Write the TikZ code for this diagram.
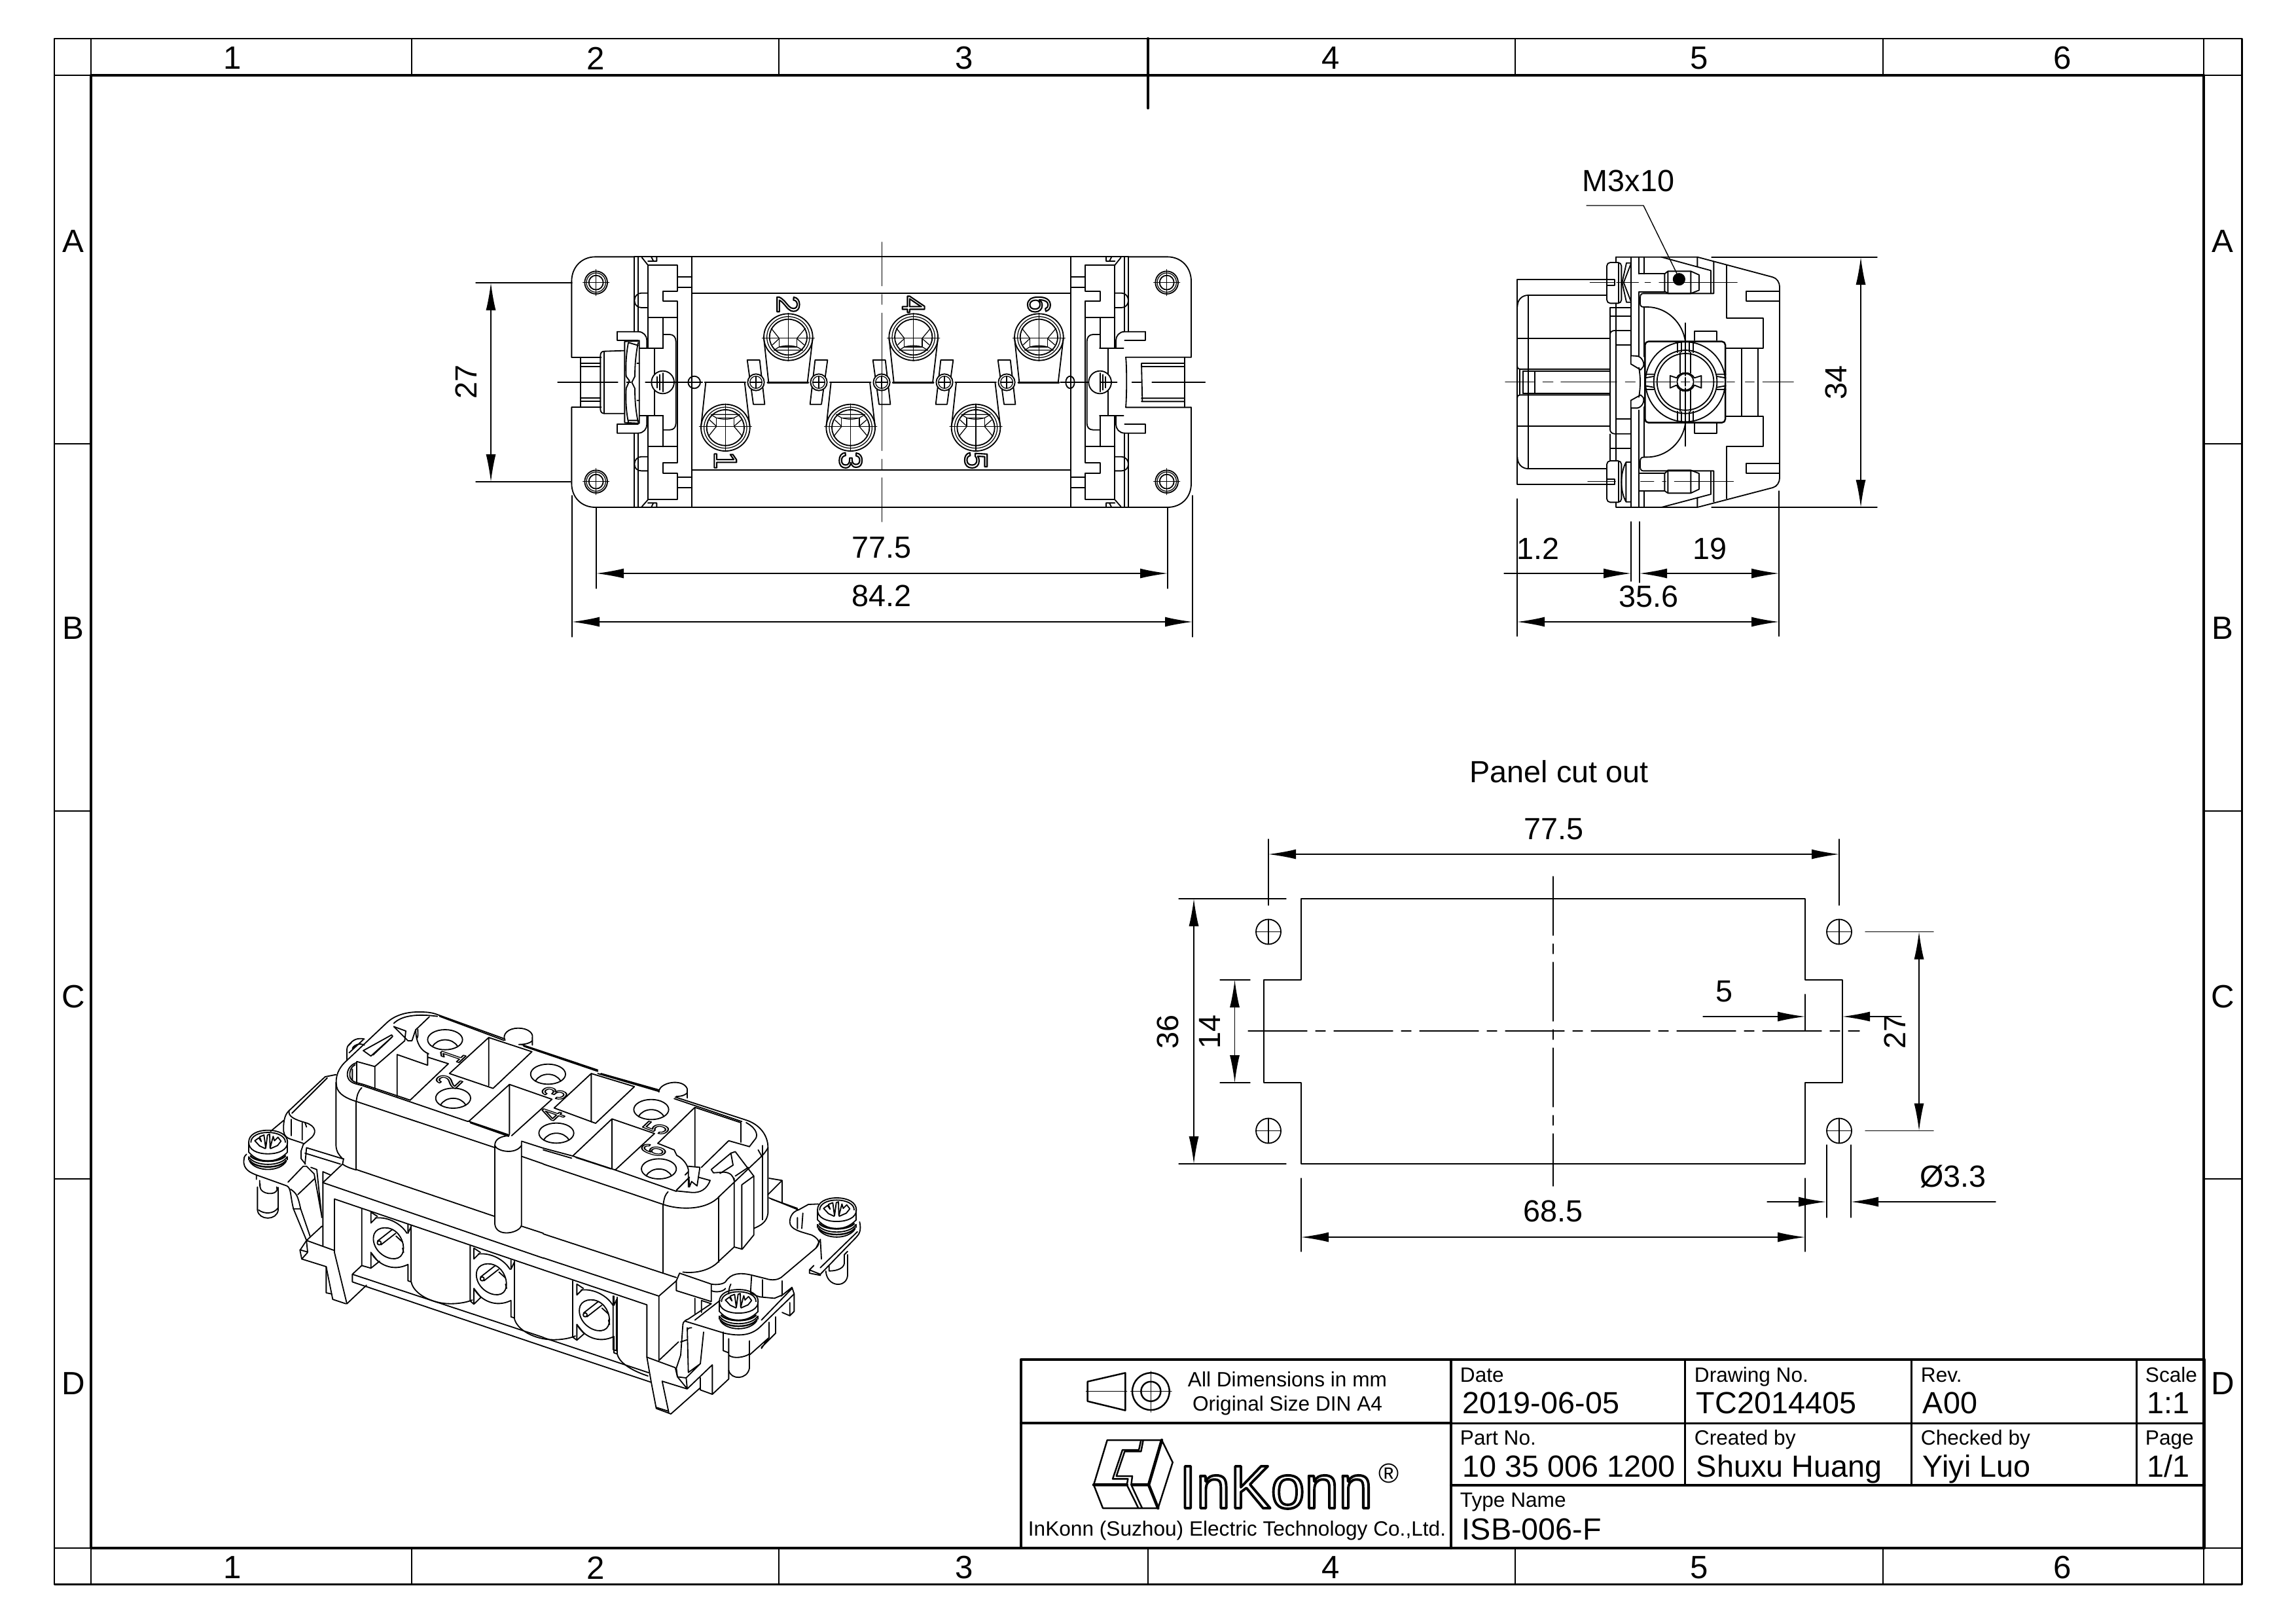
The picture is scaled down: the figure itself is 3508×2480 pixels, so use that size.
\documentclass[tikz,border=0pt]{standalone}
\usepackage{fontspec}
\setmainfont{Liberation Sans}
\usetikzlibrary{arrows.meta}
\newcommand\outl[2][0.6]{\special{pdf:code 1 Tr #1 w}#2\special{pdf:code 0 Tr}}
\newcommand\fsA{\fontsize{13.3}{15}\selectfont}
\newcommand\fsB{\fontsize{9}{11}\selectfont}
\newcommand\fsC{\fontsize{14}{16}\selectfont}
\tikzset{
 ln/.style={line width=0.52pt,line join=round,line cap=round},
 thk/.style={line width=0.7pt,line join=round},
 thn/.style={line width=0.35pt},
 fr/.style={line width=0.85pt},
 frb/.style={line width=1.25pt},
 dl/.style={line width=0.4pt},
 dimarr/.style={line width=0.4pt,{Latex[length=4.2mm,width=1.5mm]}-{Latex[length=4.2mm,width=1.5mm]}},
 onearr/.style={line width=0.4pt,-{Latex[length=4.2mm,width=1.5mm]}},
 cen/.style={line width=0.4pt,dash pattern=on 9mm off 1.3mm on 1.5mm off 1.3mm},
 dt/.style={font=\fsA,inner sep=0pt},
 dtr/.style={font=\fsA,inner sep=0pt,rotate=90},
 gl/.style={font=\fsC,inner sep=0pt},
 lab/.style={font=\fsB,anchor=base west,inner sep=0pt},
 val/.style={font=\fsA,anchor=base west,inner sep=0pt},
 zs/.style={x=0.033333mm,y=-0.033333mm},
 zm/.style={x=-0.033333mm,y=-0.033333mm},
}
% terminal of the front view (origin: centre of the ring)
\newcommand\termi[3]{%
\begin{scope}[shift={(#1,#2)},yscale=#3]
 \draw[thk] (-95,-203)--(92,-203);
 \draw[ln] (-90,-203)--(-112,0) (88,-203)--(112,0);
 \draw[ln] (0,5) ellipse [x radius=112,y radius=107];
 \draw[thn] (0,5) ellipse [x radius=98,y radius=94];
 \draw[ln] (0,5) ellipse [x radius=86,y radius=82];
 \draw[thn] (0,-104)--(0,114) (-120,0)--(120,0);
 \draw[thn] (-42,-40) rectangle (40,0);
 \draw[thn] (-66,-55)--(66,-55) (-42,-40)--(-66,-55) (40,-40)--(66,-55);
 \draw[thn] (-72,-30)--(-42,-2) (72,-30)--(40,-2) (-42,0)--(-78,45) (40,0)--(78,45);
 \draw[thn] (-42,-40) .. controls (-10,-32) and (10,-32) .. (40,-40);
\end{scope}}
% tab with a small ring on the centre line
\newcommand\tabl[2]{% x, direction
\begin{scope}[shift={(#1,597)},xscale=#2]
 \draw[ln] (-40,-102)--(17,-102)--(40,101)--(-12,101)--cycle;
 \fill[white] (0,0) circle [radius=38];
 \draw[ln] (0,0) circle [radius=38];
 \draw[thn] (0,0) circle [radius=28];
 \draw[thn] (-28,0)--(28,0) (0,-28)--(0,28);
\end{scope}}
% parts that the left and right ends of the front view share
\newcommand\frontend{%
 \draw[ln] (328,22)--(150,22) .. controls (85,22) and (40,70) .. (40,135)--(40,482);
 \draw[ln] (40,712)--(40,1060) .. controls (40,1125) and (85,1170) .. (150,1170)--(328,1170);
 \foreach \y in {140,1052}{
  \draw[ln] (152,\y) circle [radius=52];
  \draw[thn] (152,\y) circle [radius=44];
  \draw[ln] (152,\y) circle [radius=33];
  \draw[thn] (92,\y)--(212,\y) (152,\y-60)--(152,\y+60);
 }
 \draw[ln] (328,22)--(592,22) (328,1170)--(592,1170);
 \draw[ln] (328,22)--(328,365) (345,22)--(345,365) (328,830)--(328,1170) (345,830)--(345,1170);
 \draw[ln] (362,25)--(390,60) (405,22)--(415,42)--(390,42) (430,22)--(430,42)--(415,42);
 \draw[ln] (362,1167)--(390,1135) (405,1170)--(415,1150)--(390,1150) (430,1170)--(430,1150)--(415,1150);
 \draw[ln] (390,60)--(525,60)--(525,180)--(458,180)--(458,225)--(525,225)--(525,965)--(458,965)--(458,1015)--(525,1015)--(525,1135)--(390,1135)--(390,750);
 \draw[ln] (390,60)--(390,440);
 \draw[ln] (390,300)--(525,300) (458,300)--(458,440) (458,750)--(458,892) (390,892)--(525,892);
 \draw[ln] (525,113)--(592,113) (525,163)--(592,163) (525,1032)--(592,1032) (525,1080)--(592,1080);
 \draw[ln] (592,22)--(592,1170);
 \draw[ln] (388,188)--(360,188) .. controls (340,188) and (328,205) .. (328,222) .. controls (328,240) and (340,255) .. (360,255)--(388,255);
 \draw[ln] (388,938)--(360,938) .. controls (340,938) and (328,955) .. (328,972) .. controls (328,990) and (340,1003) .. (360,1003)--(388,1003);
 \draw[ln] (250,365)--(345,365) .. controls (370,365) and (385,385) .. (385,405)--(385,440);
 \draw[ln] (250,365)--(250,405)--(345,405);
 \draw[ln] (250,830)--(345,830) .. controls (370,830) and (385,810) .. (385,790)--(385,750);
 \draw[ln] (250,830)--(250,790)--(345,790);
 \draw[ln] (350,442)--(460,442) (350,750)--(460,750) (420,442)--(420,750);
 \draw[ln] (460,378)--(490,378) .. controls (508,378) and (518,392) .. (518,410)--(518,785) .. controls (518,803) and (508,815) .. (490,815)--(460,815);
 \draw[ln] (458,378)--(458,440);
 \draw[ln,fill=white] (458,597) circle [radius=52];
 \draw[ln] (458,555)--(458,640) (445,562)--(445,632) (432,572)--(432,622) (406,597)--(458,597);
}
% slotted screw of the perspective view
\newcommand\screwp[2]{%
\begin{scope}[shift={(#1,#2)}]
 \draw[ln] (-88,-5) .. controls (-88,-40) and (-50,-60) .. (0,-60) .. controls (50,-60) and (90,-40) .. (90,-5) .. controls (90,30) and (50,48) .. (0,48) .. controls (-50,48) and (-88,30) .. (-88,-5);
 \draw[ln] (-78,-5) .. controls (-78,-32) and (-45,-50) .. (0,-50) .. controls (45,-50) and (80,-32) .. (80,-5);
 \draw[ln] (-88,-5)--(-88,40) (90,-5)--(90,40);
 \draw[ln] (-88,40) .. controls (-60,72) and (-30,80) .. (0,80) .. controls (30,80) and (60,72) .. (90,40);
 \draw[ln] (-60,-12)--(-42,-25)--(-30,-8)--(-38,-30)--(-18,-38)--(-10,22)--(-2,-38)--(8,-42)--(10,22)--(24,-32)--(30,-12)--(46,-28)--(60,-10)--(44,10);
 \draw[ln] (-60,-12)--(-38,12)--(-12,24) (44,10)--(12,24);
 \draw[thk] (-80,58) .. controls (-50,90) and (50,90) .. (80,58);
 \draw[ln] (-88,62) .. controls (-60,108) and (60,108) .. (88,62);
 \draw[ln] (-88,62)--(-88,75) (88,62)--(88,75);
 \draw[thk] (-84,78) .. controls (-55,118) and (55,118) .. (84,78);
 \draw[ln] (-84,82) .. controls (-55,132) and (55,132) .. (84,82);
\end{scope}}
% contact opening of the perspective view
\newcommand\openp[2]{%
\begin{scope}[shift={(#1,#2)}]
 \draw[ln] (635,1065) .. controls (650,1030) and (710,1025) .. (745,1065) .. controls (775,1100) and (780,1160) .. (745,1175) .. controls (710,1190) and (650,1160) .. (635,1110) .. controls (630,1095) and (630,1080) .. (635,1065);
 \draw[ln] (650,1098)--(718,1045) (666,1115)--(734,1062);
 \draw[ln] (658,1106) circle [radius=9];
 \draw[ln] (735,1075)--(765,1102) (765,1130)--(770,1150);
 \draw[ln] (620,965)--(620,1015)--(645,990) (620,965)--(650,985);
 \draw[ln] (640,992) .. controls (700,985) and (760,1020) .. (785,1062);
 \draw[ln] (790,1020)--(790,1062)--(805,1030);
 \draw[ln] (620,1150)--(620,1222) (620,1150)--(652,1190);
 \draw[ln] (620,1150) .. controls (650,1205) and (720,1240) .. (790,1205)--(790,1280)--(805,1285);
 \draw[ln] (805,1025)--(805,1285);
\end{scope}}
\begin{document}
\begin{tikzpicture}[x=0.1mm,y=-0.1mm,ln]
\useasboundingbox (0,0) rectangle (3508,2480);
% ---------------- sheet frame
\draw[fr] (83,59) rectangle (3425,2420);
\draw[frb] (139,115) rectangle (3367,2365);
\draw[thn] (139,59)--(139,115) (3367,59)--(3367,115) (139,2365)--(139,2420) (3367,2365)--(3367,2420)
 (83,115)--(139,115) (3367,115)--(3425,115) (83,2365)--(139,2365) (3367,2365)--(3425,2365);
\foreach \x in {629,1190,2315,2877}{\draw[thn] (\x,59)--(\x,115) (\x,2365)--(\x,2420);}
\draw[thn] (1754,2365)--(1754,2420);
\draw[frb] (1754,59)--(1754,165);
\foreach \y in {678,1239,1801}{\draw[thn] (83,\y)--(139,\y) (3367,\y)--(3425,\y);}
\foreach \x/\t in {355/1,910/2,1473/3,2033/4,2596/5,3151/6}{
 \node[gl] (top\t) at (\x,89) {\t};
 \node[gl] (bot\t) at (\x,2395) {\t};}
\foreach \y/\t in {369/A,960/B,1523/C,2114/D}{
 \node[gl] (lft\t) at (112,\y) {\t};
 \node[gl] (rgt\t) at (3396,\y) {\t};}
% ---------------- title block
\draw[frb] (1560,2077) rectangle (3368,2365);
\draw[frb] (1560,2174)--(2217,2174);
\draw[frb] (2217,2077)--(2217,2365);
\draw[fr] (2217,2174)--(3368,2174);
\draw[frb] (2217,2269)--(3368,2269);
\foreach \x in {2574,2920,3264}{\draw[fr] (\x,2077)--(\x,2269);}
\node[lab] (tDate) at (2230,2111) {Date};
\node[lab] (tDraw) at (2588,2111) {Drawing No.};
\node[lab] (tRev) at (2934,2111) {Rev.};
\node[lab] (tScale) at (3277,2111) {Scale};
\node[val] (vDate) at (2234,2159) {2019-06-05};
\node[val] (vDraw) at (2591,2159) {TC2014405};
\node[val] (vRev) at (2937,2159) {A00};
\node[val] (vScale) at (3280,2159) {1:1};
\node[lab] (tPart) at (2230,2207) {Part No.};
\node[lab] (tCre) at (2588,2207) {Created by};
\node[lab] (tChk) at (2934,2207) {Checked by};
\node[lab] (tPage) at (3277,2207) {Page};
\node[val] (vPart) at (2234,2256) {10 35 006 1200};
\node[val] (vCre) at (2591,2256) {Shuxu Huang};
\node[val] (vChk) at (2937,2256) {Yiyi Luo};
\node[val] (vPage) at (3280,2256) {1/1};
\node[lab] (tType) at (2230,2302) {Type Name};
\node[val] (vType) at (2233,2352) {ISB-006-F};
\node[lab,anchor=base] (tDim) at (1967,2118) {All Dimensions in mm};
\node[lab,anchor=base] (tDin) at (1967,2155) {Original Size DIN A4};
\node[lab,anchor=base] (tCo) at (1890,2346) {InKonn (Suzhou) Electric Technology Co.,Ltd.};
\node[font=\fontsize{26.5}{28}\selectfont,anchor=base west,inner sep=0pt] (logo) at (1801,2304) {\outl[1.1]{InKonn}};
\node[font=\fontsize{12}{14}\selectfont,inner sep=0pt] (reg) at (2122,2251) {®};
\begin{scope}[shift={(1640,2080)},zs]
 \draw[thk] (65,92)--(238,52)--(238,224)--(65,182)--cycle;
 \draw[thn] (58,137)--(245,137) (262,137)--(450,137) (355,45)--(355,232);
 \draw[thk] (355,137) circle [radius=85];
 \draw[thk] (355,137) circle [radius=45];
 \draw[thk] (155,360)--(405,360)--(455,462)--(388,672)--(135,672)--(93,565)--cycle;
 \draw[line width=1.3pt] (93,565)--(245,565) (270,565)--(345,565) (405,360)--(345,565)--(388,672);
 \draw[thk] (310,360)--(300,405)--(225,405)--(180,538)--(250,538)--(245,565)--(298,672);
 \draw[thk] (320,360)--(310,412)--(235,412)--(197,525)--(270,525)--(265,565)--(315,672);
\end{scope}
% ---------------- front view
\begin{scope}[shift={(860,385)},zs]
 \frontend
 \draw[ln] (592,22)--(2328,22) (592,1170)--(2328,1170);
 \draw[ln] (592,190)--(2328,190) (592,1000)--(2328,1000);
 % left-only latch
 \draw[ln] (40,482)--(175,482) (40,712)--(175,712) (80,482)--(80,712);
 \draw[ln] (80,510)--(172,510) (80,525)--(172,525) (80,670)--(172,670) (80,685)--(172,685);
 \draw[ln] (280,452)--(190,455) .. controls (178,455) and (172,462) .. (172,475)--(172,720) .. controls (172,732) and (178,740) .. (190,740)--(280,740);
 \draw[ln] (190,455)--(190,740);
 \draw[ln] (283,410)--(283,780) (350,405)--(350,785) (283,410)--(350,408) (283,782)--(350,785);
 \draw[ln] (300,415) .. controls (288,480) and (288,530) .. (290,570)--(305,590)--(290,625) .. controls (288,670) and (288,720) .. (300,780);
 \draw[ln] (345,415) .. controls (332,480) and (330,530) .. (330,570)--(316,597)--(330,625) .. controls (330,670) and (332,720) .. (345,780);
 \draw[ln] (300,415)--(345,428) (300,772)--(345,772) (340,510)--(350,510) (340,680)--(350,680);
 % centre holes and lines
 \draw[ln] (602,597) ellipse [x radius=28,y radius=28];
 \draw[thn] (-24,597)--(252,597) (292,597)--(312,597) (378,597)--(640,597);
 \draw[thn] (2280,597)--(2540,597) (2608,597)--(2650,597) (2700,597)--(2944,597);
 \tabl{885}{1}\tabl{1173}{-1}\tabl{1461}{1}\tabl{1749}{-1}\tabl{2034}{1}
 \termi{745}{800}{1}\termi{1319}{800}{1}\termi{1893}{800}{1}
 \termi{1033}{395}{-1}\termi{1607}{395}{-1}\termi{2182}{395}{-1}
 \draw[thn] (1462,-45)--(1462,155) (1462,195)--(1462,240) (1462,280)--(1462,910) (1462,950)--(1462,1000) (1462,1035)--(1462,1236);
 \foreach \x/\y/\t in {745/955/1,1319/955/3,1893/955/5,1033/240/2,1607/240/4,2182/240/6}
  \node[font=\fsC,rotate=-90,inner sep=0pt] (fn\t) at (\x,\y) {\outl{\t}};
\end{scope}
\begin{scope}[shift={(1833.33,385)},zm]
 \frontend
 \draw[ln] (595,597) ellipse [x radius=20,y radius=28];
 \draw[ln] (40,482)--(340,482) .. controls (335,520) and (335,660) .. (340,712)--(40,712);
 \draw[ln] (70,482)--(70,712) (70,510)--(268,510) (70,525)--(268,525) (70,670)--(268,670) (70,685)--(268,685) (268,510)--(264,685);
\end{scope}
\draw[dl] (727,432)--(874,432) (727,736)--(872,736);
\coordinate (fa1) at (750,432); \coordinate (fa2) at (750,736);
\draw[dimarr] (fa1)--(fa2);
\node[dtr] (d27a) at (712,583) {27};
\draw[dl] (911,775)--(911,899) (1784,775)--(1784,899);
\coordinate (fb1) at (911,876); \coordinate (fb2) at (1784,876);
\draw[dimarr] (fb1)--(fb2);
\node[dt] (d775a) at (1347,837) {77.5};
\draw[dl] (874,757)--(874,973) (1822,757)--(1822,973);
\coordinate (fc1) at (874,950); \coordinate (fc2) at (1822,950);
\draw[dimarr] (fc1)--(fc2);
\node[dt] (d842) at (1347,910) {84.2};
% ---------------- side view
\begin{scope}[shift={(2300,370)},zs]
 \draw[ln] (500,172)--(55,172)--(55,1110)--(500,1110);
 \draw[ln] (465,243)--(105,243) .. controls (75,243) and (55,265) .. (55,295);
 \draw[ln] (465,1038)--(105,1038) .. controls (75,1038) and (55,1015) .. (55,985);
 \draw[ln] (105,243)--(105,1038) (55,440)--(480,440) (55,843)--(480,843);
 \draw[ln] (55,570) .. controls (55,580) and (62,582) .. (75,582)--(480,582) (55,712) .. controls (55,702) and (62,700) .. (75,700)--(480,700);
 \draw[ln] (80,592)--(480,592) (80,692)--(480,692) (80,592)--(80,692) (135,592)--(135,692) (65,582)--(65,700);
 % screw heads
 \draw[ln,rounded corners=1.5pt] (465,93) rectangle (532,280);
 \draw[ln,rounded corners=1.5pt] (465,1002) rectangle (532,1192);
 \draw[ln] (520,95)--(520,278) (520,1004)--(520,1190);
 \draw[ln] (500,172)--(500,198)--(465,198) (465,1085)--(500,1085)--(500,1110)--(465,1110);
 \draw[ln] (575,95)--(555,95)--(535,185)--(555,275)--(575,275) (575,100)--(542,185)--(575,270);
 \draw[ln] (575,1008)--(553,1008) .. controls (525,1060) and (525,1140) .. (553,1190)--(575,1190) (553,1008)--(553,1190);
 % plate
 \draw[ln] (507,68)--(880,68)--(1225,160) .. controls (1245,165) and (1257,185) .. (1257,205)--(1257,1080) .. controls (1257,1100) and (1245,1120) .. (1225,1125)--(880,1215)--(507,1215)--(507,1192);
 \draw[ln] (507,68)--(507,93) (507,280)--(507,1002);
 \draw[ln] (575,68)--(575,520) (575,760)--(575,1215) (612,68)--(612,145) (612,228)--(612,520) (612,770)--(612,1215);
 \draw[ln] (635,68)--(635,145) (635,297)--(635,525) (635,755)--(635,985) (635,1140)--(635,1215);
 \draw[ln] (880,68)--(880,110) (715,68)--(942,130)--(942,235) (955,90)--(955,235)--(632,235) .. controls (622,235) and (618,242) .. (618,255)--(618,280) .. controls (618,292) and (622,297) .. (635,297);
 \draw[ln] (880,1170)--(880,1215) (715,1215)--(942,1155)--(942,1048) (955,1190)--(955,1048)--(632,1048) .. controls (622,1048) and (618,1040) .. (618,1030)--(618,1005) .. controls (618,992) and (622,985) .. (635,985);
 \draw[ln] (635,297)--(650,297) .. controls (740,297) and (815,370) .. (825,458);
 \draw[ln] (635,985)--(650,985) .. controls (740,985) and (815,915) .. (825,828);
 \draw[ln] (612,145)--(730,145) (612,228)--(730,228) (612,1058)--(730,1058) (612,1140)--(730,1140);
 \draw[ln] (730,145)--(745,133)--(850,133)--(888,150)--(888,220)--(850,235)--(745,235)--(730,225)--cycle (745,133)--(745,235) (850,133)--(850,235);
 \draw[ln] (730,1060)--(745,1045)--(850,1045)--(888,1060)--(888,1132)--(850,1150)--(745,1150)--(730,1140)--cycle (745,1045)--(745,1150) (850,1045)--(850,1150);
 % right shapes
 \draw[ln] (1015,105)--(1015,347)--(1183,347)--(1183,487)--(1010,487) (1015,1175)--(1015,937)--(1183,937)--(1183,797)--(1010,797);
 \draw[ln] (1257,225)--(1105,225)--(1105,270)--(1257,270) (1257,1013)--(1105,1013)--(1105,1060)--(1257,1060);
 \draw[ln] (1082,487)--(1082,797) (1157,487)--(1157,797);
 % middle block
 \draw[ln] (480,300)--(480,860) .. controls (480,870) and (490,878) .. (500,878)--(575,878) (480,420) .. controls (480,412) and (490,405) .. (500,405)--(575,405) (480,880)--(480,1002);
 \draw[ln] (480,338)--(575,338) (507,472)--(575,472) (480,945)--(575,945) (507,810)--(575,810) (480,300)--(575,300);
 \draw[ln] (575,520)--(605,522) .. controls (625,525) and (640,555) .. (632,570)--(620,585)--(575,558)--cycle;
 \draw[ln] (575,760)--(605,760) .. controls (625,757) and (640,730) .. (632,712)--(620,700)--(575,725)--cycle;
 \draw[ln] (612,575) .. controls (620,620) and (620,660) .. (612,710);
 % screw
 \draw[ln] (868,450)--(868,408)--(970,408)--(970,450) (868,830)--(868,875)--(970,875)--(970,830);
 \draw[thk,rounded corners=1.5pt] (640,455) rectangle (1008,827);
 \draw[ln] (825,640) circle [radius=183];
 \draw[ln] (825,640) circle [radius=145];
 \draw[ln] (825,640) circle [radius=130];
 \draw[ln] (800,505)--(800,600) (850,505)--(850,600) (800,680)--(800,775) (850,680)--(850,775);
 \draw[ln] (790,460)--(790,505) (860,460)--(860,505) (790,775)--(790,822) (860,775)--(860,822) (808,460)--(808,503) (842,460)--(842,503) (808,777)--(808,822) (842,777)--(842,822);
 \draw[ln] (640,622)--(680,615) (640,658)--(680,665) (1010,622)--(970,615) (1010,658)--(970,665) (640,605)--(680,605) (640,675)--(680,675) (1010,605)--(970,605) (1010,675)--(970,675);
 \draw[ln,fill=white] (755,612)--(785,622) .. controls (790,608) and (812,596) .. (825,600) .. controls (840,596) and (860,610) .. (866,622)--(898,612)--(898,668)--(866,655) .. controls (860,672) and (840,684) .. (825,682) .. controls (808,684) and (790,672) .. (785,655)--(755,668)--cycle;
 \draw[ln] (825,640) circle [radius=38];
 \draw[thn] (805,640)--(845,640) (825,620)--(825,660);
 % centre lines
 \draw[dl] (825,370)--(825,612) (825,668)--(825,935);
 \draw[dl] (388,185)--(500,185) (510,185)--(610,185) (640,185)--(665,185) (705,185)--(1062,185);
 \draw[dl] (378,1097)--(505,1097) (620,1097)--(680,1097) (720,1097)--(735,1097) (775,1097)--(1045,1097);
 \draw[dl] (0,640)--(130,640) (172,640)--(218,640) (255,640)--(510,640) (550,640)--(595,640) (640,640)--(780,640) (870,640)--(1000,640) (1015,640)--(1050,640) (1100,640)--(1140,640) (1180,640)--(1320,640);
 \draw[ln,fill=black] (796,170) circle [radius=26];
\end{scope}
\coordinate (lead1) at (2424,314); \coordinate (lead2) at (2511,314); \coordinate (lead3) at (2564,422);
\draw[dl] (lead1)--(lead2)--(lead3);
\node[dt] (m3) at (2488,276) {M3x10};
\draw[dl] (2615,393)--(2868,393) (2615,775)--(2868,775);
\coordinate (sa1) at (2843,393); \coordinate (sa2) at (2843,775);
\draw[dimarr] (sa1)--(sa2);
\node[dtr] (d34) at (2805,584) {34};
\draw[dl] (2318,762)--(2318,972) (2718,750)--(2718,972) (2492,797)--(2492,888) (2505,797)--(2505,890);
\coordinate (sb1) at (2298,876); \coordinate (sb2) at (2492,876); \coordinate (sb3) at (2505,876); \coordinate (sb4) at (2718,876);
\draw[onearr] (sb1)--(sb2);
\draw[dimarr] (sb3)--(sb4);
\coordinate (sc1) at (2318,950); \coordinate (sc2) at (2718,950);
\draw[dimarr] (sc1)--(sc2);
\node[dt] (d12) at (2350,838) {1.2};
\node[dt] (d19) at (2612,838) {19};
\node[dt] (d356) at (2519,911) {35.6};
% ---------------- panel cut out
\node[dt] (pco) at (2382,1179) {Panel cut out};
\draw[thk] (1988,1373)--(2758,1373)--(2758,1497)--(2815,1497)--(2815,1654)--(2758,1654)--(2758,1778)--(1988,1778)--(1988,1654)--(1931,1654)--(1931,1497)--(1988,1497)--cycle;
\draw[cen] (1907,1575)--(2841,1575);
\draw[cen] (2373,1339)--(2373,1812);
\foreach \x/\y in {1938/1423.5,2810/1423.5,1938/1727.5,2810/1727.5}{
 \draw[ln] (\x,\y) circle [radius=19];
 \draw[thn] (\x-19,\y)--(\x+19,\y) (\x,\y-19)--(\x,\y+19);}
\draw[dl] (1938,1282)--(1938,1383) (2810,1282)--(2810,1383);
\coordinate (pa1) at (1938,1305); \coordinate (pa2) at (2810,1305);
\draw[dimarr] (pa1)--(pa2);
\node[dt] (d775b) at (2374,1267) {77.5};
\draw[dl] (1801,1373)--(1965,1373) (1801,1778)--(1965,1778);
\coordinate (pb1) at (1824,1373); \coordinate (pb2) at (1824,1778);
\draw[dimarr] (pb1)--(pb2);
\node[dtr] (d36) at (1784,1576) {36};
\draw[dl] (1864,1497)--(1910,1497) (1864,1654)--(1910,1654);
\coordinate (pc1) at (1886.5,1497); \coordinate (pc2) at (1886.5,1654);
\draw[dimarr] (pc1)--(pc2);
\node[dtr] (d14) at (1848,1576) {14};
\draw[dl] (2850,1423.5)--(2954,1423.5) (2850,1727.5)--(2954,1727.5);
\coordinate (pd1) at (2932,1423.5); \coordinate (pd2) at (2932,1727.5);
\draw[dimarr] (pd1)--(pd2);
\node[dtr] (d27b) at (2895,1576) {27};
\draw[dl] (2758,1519)--(2758,1575);
\coordinate (pe1) at (2602,1553); \coordinate (pe2) at (2758,1553); \coordinate (pe3) at (2905,1553); \coordinate (pe4) at (2815,1553);
\draw[onearr] (pe1)--(pe2);
\draw[onearr] (pe3)--(pe4);
\node[dt] (d5) at (2634,1515) {5};
\draw[dl] (1988,1800)--(1988,1912) (2758,1800)--(2758,1912);
\coordinate (pf1) at (1988,1890); \coordinate (pf2) at (2758,1890);
\draw[dimarr] (pf1)--(pf2);
\node[dt] (d685) at (2373,1850) {68.5};
\draw[dl] (2791,1749)--(2791,1860) (2828,1749)--(2828,1860);
\coordinate (pg1) at (2700,1836); \coordinate (pg2) at (2790,1836); \coordinate (pg3) at (3049,1836); \coordinate (pg4) at (2828,1836);
\draw[onearr] (pg1)--(pg2);
\draw[onearr] (pg3)--(pg4);
\node[dt] (d33) at (2984,1797) {Ø3.3};
% ---------------- perspective view, left part
\begin{scope}[shift={(360,1530)},zs]
 % rim
 \draw[ln] (510,270)--(690,100) .. controls (730,60) and (790,46) .. (850,48) .. controls (880,48) and (905,52) .. (925,60)--(1230,170);
 \draw[ln] (935,68)--(1230,178) (725,100) .. controls (760,65) and (830,55) .. (925,68);
 \draw[ln] (1310,197)--(1660,314) (1320,205)--(1660,320);
 \draw[ln] (1235,178) .. controls (1220,150) and (1250,122) .. (1295,122) .. controls (1340,122) and (1365,145) .. (1360,165)--(1360,200);
 \draw[ln] (1298,197) .. controls (1330,197) and (1350,190) .. (1360,180);
 \draw[ln] (510,270) .. controls (470,305) and (455,345) .. (463,390) .. controls (470,425) and (510,445) .. (553,458)--(1190,670);
 \draw[ln] (460,370)--(460,660) .. controls (462,690) and (475,705) .. (490,720);
 \draw[ln] (553,458) .. controls (556,430) and (562,410) .. (578,395);
 \draw[ln] (553,458)--(553,770);
 \draw[ln] (555,280) .. controls (520,290) and (505,325) .. (515,350) .. controls (525,375) and (555,378) .. (580,385)--(1065,550);
 \draw[ln] (548,290) .. controls (525,300) and (520,330) .. (525,348) .. controls (535,372) and (560,372) .. (585,380)--(800,452);
 \draw[ln] (1065,548)--(1255,612) (1076,556)--(1252,618);
 % cavities
 \draw[ln] (555,275)--(638,298)--(775,180)--(780,135)--(725,115) (638,298)--(638,398) (555,275)--(555,378) (535,310)--(535,360);
 \draw[ln] (740,243)--(740,435) (740,243)--(880,292)--(880,237) (880,255)--(975,285)--(800,452);
 \draw[ln] (725,115)--(790,180)--(808,180)--(825,130)--(888,70);
 \draw[ln] (825,130) .. controls (828,195) and (850,225) .. (885,240);
 \draw[ln] (835,128) .. controls (835,150) and (838,160) .. (830,170);
 \draw[ln] (585,225)--(620,250)--(720,160)--(715,153)--cycle;
 \draw[ln] (630,245)--(715,165);
 \draw[ln] (520,200) .. controls (535,175) and (560,165) .. (590,172);
 \draw[ln] (510,270)--(510,220) .. controls (510,205) and (520,195) .. (530,190) (520,235)--(585,175) (535,215) .. controls (545,195) and (570,190) .. (590,200);
 \draw[ln] (980,330)--(1160,165)--(1358,230)--(1180,398)--cycle (1160,165)--(1160,385);
 \draw[ln] (1070,548)--(1255,380)--(1450,448)--(1265,615) (1255,380)--(1255,607);
 % contact holes
 \foreach \x/\y in {960/175,997/443,1432/333,1470/603}{
  \draw[ln] (\x,\y) ellipse [x radius=80,y radius=46];
  \draw[ln] (\x-58,\y+32) .. controls (\x-35,\y-10) and (\x+35,\y-10) .. (\x+58,\y+32);}
 % stud
 \draw[ln] (1188,660) .. controls (1188,630) and (1215,618) .. (1250,615);
 \draw[ln] (1188,660) .. controls (1195,685) and (1280,705) .. (1310,660);
 \draw[ln] (1188,660)--(1188,1020) .. controls (1195,1085) and (1305,1060) .. (1310,1025)--(1310,645);
 \draw[ln] (1310,640)--(1410,672) (1312,710)--(1410,744) (553,770)--(1188,985) (1312,1030)--(1410,1062);
 % flange
 \draw[ln] (400,830)--(1410,1176) (400,830)--(490,745) (490,745)--(495,720) (490,745) .. controls (510,760) and (530,765) .. (553,772);
 \draw[ln] (453,905)--(1410,1230) (453,905)--(453,1150)--(510,1385)--(600,1300);
 \draw[ln] (400,830)--(400,1120) (395,1030)--(325,1095);
 \draw[ln] (535,1250)--(1410,1539) (535,1250)--(535,1285)--(1410,1580) (535,1250)--(578,1210);
 \draw[ln] (578,950)--(578,1210)--(620,1222)--(660,1190);
 \draw[ln] (1075,1120)--(1075,1372)--(1092,1387)--(1125,1355);
 \draw[ln] (1545,1280)--(1545,1538)--(1564,1552)--(1600,1520);
 \openp{0}{0}\openp{472}{165}\openp{944}{330}
 \foreach \dx/\dy in {0/0,472/165}{
  \draw[ln,shift={(\dx,\dy)}] (805,1285) .. controls (815,1340) and (900,1385) .. (985,1385) .. controls (1025,1385) and (1060,1378) .. (1085,1368);}
 \draw[ln] (1749,1615) .. controls (1760,1665) and (1840,1700) .. (1890,1716);
 % bracket
 \draw[ln] (245,500)--(410,345)--(460,335) (258,512)--(420,350);
 \draw[ln] (245,500) .. controls (222,520) and (218,560) .. (220,595) .. controls (222,615) and (235,625) .. (250,630)--(310,650);
 \draw[ln] (245,500) .. controls (240,525) and (265,540) .. (320,555) .. controls (370,570) and (375,605) .. (340,630)--(310,655)--(300,685)--(300,720)--(320,745);
 \draw[ln] (255,540)--(255,615) (305,555)--(305,635) (318,555)--(325,575);
 \draw[ln] (325,670)--(495,722) (318,695)--(480,745) (325,670)--(318,745);
 \draw[ln] (220,545)--(160,595);
 \draw[ln] (38,725) .. controls (32,770) and (70,785) .. (95,795)--(235,845) .. controls (255,855) and (250,890) .. (265,950)--(325,1095);
 \draw[ln] (50,700) .. controls (38,710) and (38,720) .. (38,725);
 \draw[ln] (240,828)--(310,755)--(325,755)--(360,790)--(395,985) (285,885)--(362,812) (345,760)--(372,770)--(395,990) (400,780)--(400,830) (400,780)--(435,795);
 \draw[ln] (252,860) .. controls (280,880) and (285,890) .. (298,950)--(342,1078) (265,950)--(298,950);
 \draw[ln] (95,795)--(95,815) (110,820)--(110,845) (188,850)--(190,860);
 \screwp{148}{650}
 \draw[ln] (100,850)--(100,955) .. controls (105,1005) and (190,1005) .. (195,955)--(195,852);
 \draw[ln] (112,835)--(112,850) .. controls (115,885) and (185,890) .. (190,862) (105,955) .. controls (130,975) and (175,975) .. (195,945);
 % left foot
 \draw[ln] (325,1095)--(295,1140)--(303,1180)--(415,1215)--(415,1335)--(440,1340)--(445,1365)--(505,1385);
 \draw[ln] (325,1095)--(450,1140) (295,1138)--(330,1148)--(325,1100) (303,1180)--(330,1150) (415,1215)--(440,1340);
\end{scope}
% ---------------- digits on the perspective view
\foreach \x/\y/\t in {690/1613/1,685/1652/2,847/1670/3,843/1703/4,1003/1723/5,998/1757/6}{
 \begin{scope}[shift={(\x,\y)}]
  \node[font=\fsC,inner sep=0pt,transform shape,cm={.51,.48,-.95,.33,(0,0)}] (iso\t) at (0,0) {\outl{\t}};
 \end{scope}}
% ---------------- perspective view, right part
\begin{scope}[shift={(830,1640)},zs]
 \draw[ln] (250,0)--(530,82) (265,0)--(530,75);
 \draw[ln] (605,108)--(935,215) .. controls (990,235) and (1030,280) .. (1030,340)--(1030,640) .. controls (1025,680) and (1000,695) .. (965,710);
 \draw[ln] (600,115)--(910,220) (930,225) .. controls (985,255) and (985,290) .. (968,305)--(945,335);
 \draw[ln] (530,85) .. controls (530,40) and (640,20) .. (660,70)--(660,112) (610,105) .. controls (640,105) and (655,95) .. (660,88);
 \draw[ln] (905,225)--(905,315) (1005,330)--(1005,670);
 % cavities
 \draw[ln] (50,158)--(220,0)--(418,60)--(240,228)--cycle (220,0)--(220,222);
 \draw[ln] (135,378)--(315,208)--(510,275)--(330,442)--cycle (315,208)--(315,437);
 \draw[ln] (0,342)--(135,378) (0,350)--(130,388) (150,385)--(310,437) (330,442)--(610,540);
 \draw[ln] (525,320)--(695,155)--(905,225) (695,155)--(695,425);
 \draw[ln] (525,320)--(600,350)--(612,375) .. controls (640,390) and (660,415) .. (665,440)--(665,520);
 \draw[ln] (665,425)--(718,430)--(705,515)--(680,495)--(670,520)--(668,480) (650,465)--(665,450);
 \foreach \x/\y in {495/165,530/437}{
  \draw[ln] (\x,\y) ellipse [x radius=80,y radius=46];
  \draw[ln] (\x-58,\y+32) .. controls (\x-35,\y-10) and (\x+35,\y-10) .. (\x+58,\y+32);}
 % rim of front
 \draw[ln] (0,415)--(550,600) .. controls (620,625) and (750,630) .. (810,560)--(1005,375) .. controls (1018,360) and (1025,350) .. (1030,340);
 \draw[ln] (550,600) .. controls (555,565) and (560,555) .. (572,542);
 \draw[ln] (610,535)--(670,475) (610,538)--(680,545) .. controls (720,548) and (750,530) .. (765,490)--(710,475);
 \draw[ln] (725,430)--(850,308)--(945,335);
 \draw[ln] (770,440)--(860,365)--(880,358)--(965,470)--(965,740)--(912,805)--(875,795)--(875,480);
 \draw[ln] (770,440)--(780,455)--(830,452) .. controls (860,455) and (870,470) .. (875,490);
 \draw[ln] (880,470)--(940,430) (910,510)--(965,470) (910,510)--(910,805) (860,365)--(870,420)--(810,458) (985,350)--(1005,385);
 \draw[ln] (550,600)--(550,915) (805,565)--(805,865);
 \draw[ln] (875,795)--(805,860) .. controls (770,900) and (700,918) .. (640,910);
 \draw[ln] (0,735)--(610,935);
 % flange
 \draw[ln] (0,845)--(530,1020)--(610,950) (530,1020)--(530,1315)--(620,1230) (0,900)--(475,1060)--(475,1300);
 \draw[ln] (335,1040)--(335,1270)--(320,1265) (320,1020)--(320,1265);
 \draw[ln] (610,950)--(625,915)--(770,965) .. controls (795,970) and (825,965) .. (835,955) .. controls (860,915) and (900,910) .. (960,925)--(1020,940) .. controls (1050,950) and (1075,945) .. (1090,935)--(1250,800) .. controls (1275,775) and (1260,755) .. (1230,740) .. controls (1180,725) and (1130,715) .. (1130,680) .. controls (1130,650) and (1150,630) .. (1170,625)--(1035,570);
 \draw[ln] (1045,575)--(1165,618) (1035,480)--(1095,490)--(1095,590) (1030,555)--(1095,490);
 \draw[ln] (610,950)--(610,995)--(770,1045);
 \draw[ln] (770,965)--(770,1045) (860,965) .. controls (850,985) and (850,1000) .. (850,1010) (955,925)--(950,1005) (1005,945)--(1005,1025) (1095,950)--(1095,1015) (950,1005) .. controls (970,1015) and (985,1025) .. (1005,1025)--(1060,1030)--(1095,1015);
 \draw[ln] (770,995) .. controls (790,1005) and (825,1000) .. (835,985);
 \draw[ln] (695,1030)--(695,1100) (725,1040)--(725,1095) (725,1040)--(770,1055);
 % right ear
 \draw[ln] (1170,625)--(1215,600)--(1260,598) (1190,640)--(1185,710) (1165,660)--(1165,710) (1250,800)--(1270,760)--(1275,850);
 \draw[ln] (1450,680) .. controls (1458,715) and (1450,735) .. (1435,750)--(1270,920)--(1220,900)--(1240,880) (1220,900)--(1220,915)--(1270,925)--(1270,920) (1440,725)--(1270,890) (1380,830)--(1395,815);
 \draw[ln] (1295,905) .. controls (1300,980) and (1390,985) .. (1395,925)--(1395,830) (1310,880)--(1310,905) (1380,830)--(1380,860) .. controls (1385,890) and (1350,905) .. (1310,905);
 \screwp{1345}{630}
 % front ear
 \draw[ln] (640,1150) .. controls (640,1140) and (650,1130) .. (665,1125)--(770,1055) (695,1130)--(810,1040);
 \draw[ln] (650,1135)--(830,1190) .. controls (900,1205) and (950,1200) .. (990,1165)--(1150,1010) (1150,1010)--(1140,980)--(1090,1020) (1000,1130)--(1140,985);
 \draw[ln] (640,1150)--(630,1290)--(610,1350)--(615,1390)--(655,1395)--(720,1330) (660,1165)--(665,1370)--(720,1330)--(735,1185) (630,1230)--(660,1220) (680,1165) .. controls (665,1165) and (660,1170) .. (660,1180);
 \draw[ln] (615,1390)--(660,1445)--(775,1335)--(775,1470)--(720,1450)--(720,1395) (775,1470)--(850,1400)--(850,1360) (655,1395)--(660,1445);
 \draw[ln] (1150,1010)--(1150,1090)--(1130,1110)--(1095,1095) (1130,1050)--(1130,1110);
 \draw[ln] (825,1185)--(825,1270)--(850,1280) (850,1215)--(850,1360) .. controls (860,1405) and (935,1405) .. (945,1350)--(945,1225) (850,1290) .. controls (870,1310) and (925,1300) .. (945,1285);
 \draw[ln] (945,1290)--(1035,1210)--(1035,1140) (1065,1115)--(1065,1190)--(1000,1255) (1000,1260)--(1030,1215);
 \screwp{895}{1050}
 % foot
 \draw[ln] (0,1210)--(483,1371) (0,1250)--(495,1415);
 \draw[ln] (475,1300)--(495,1415)--(518,1535)--(585,1560)--(720,1440)--(720,1395);
 \draw[ln] (518,1530)--(575,1548) (545,1410)--(575,1552) (545,1410)--(658,1445) (475,1300)--(605,1348)--(615,1390);
\end{scope}
\end{tikzpicture}
\end{document}
